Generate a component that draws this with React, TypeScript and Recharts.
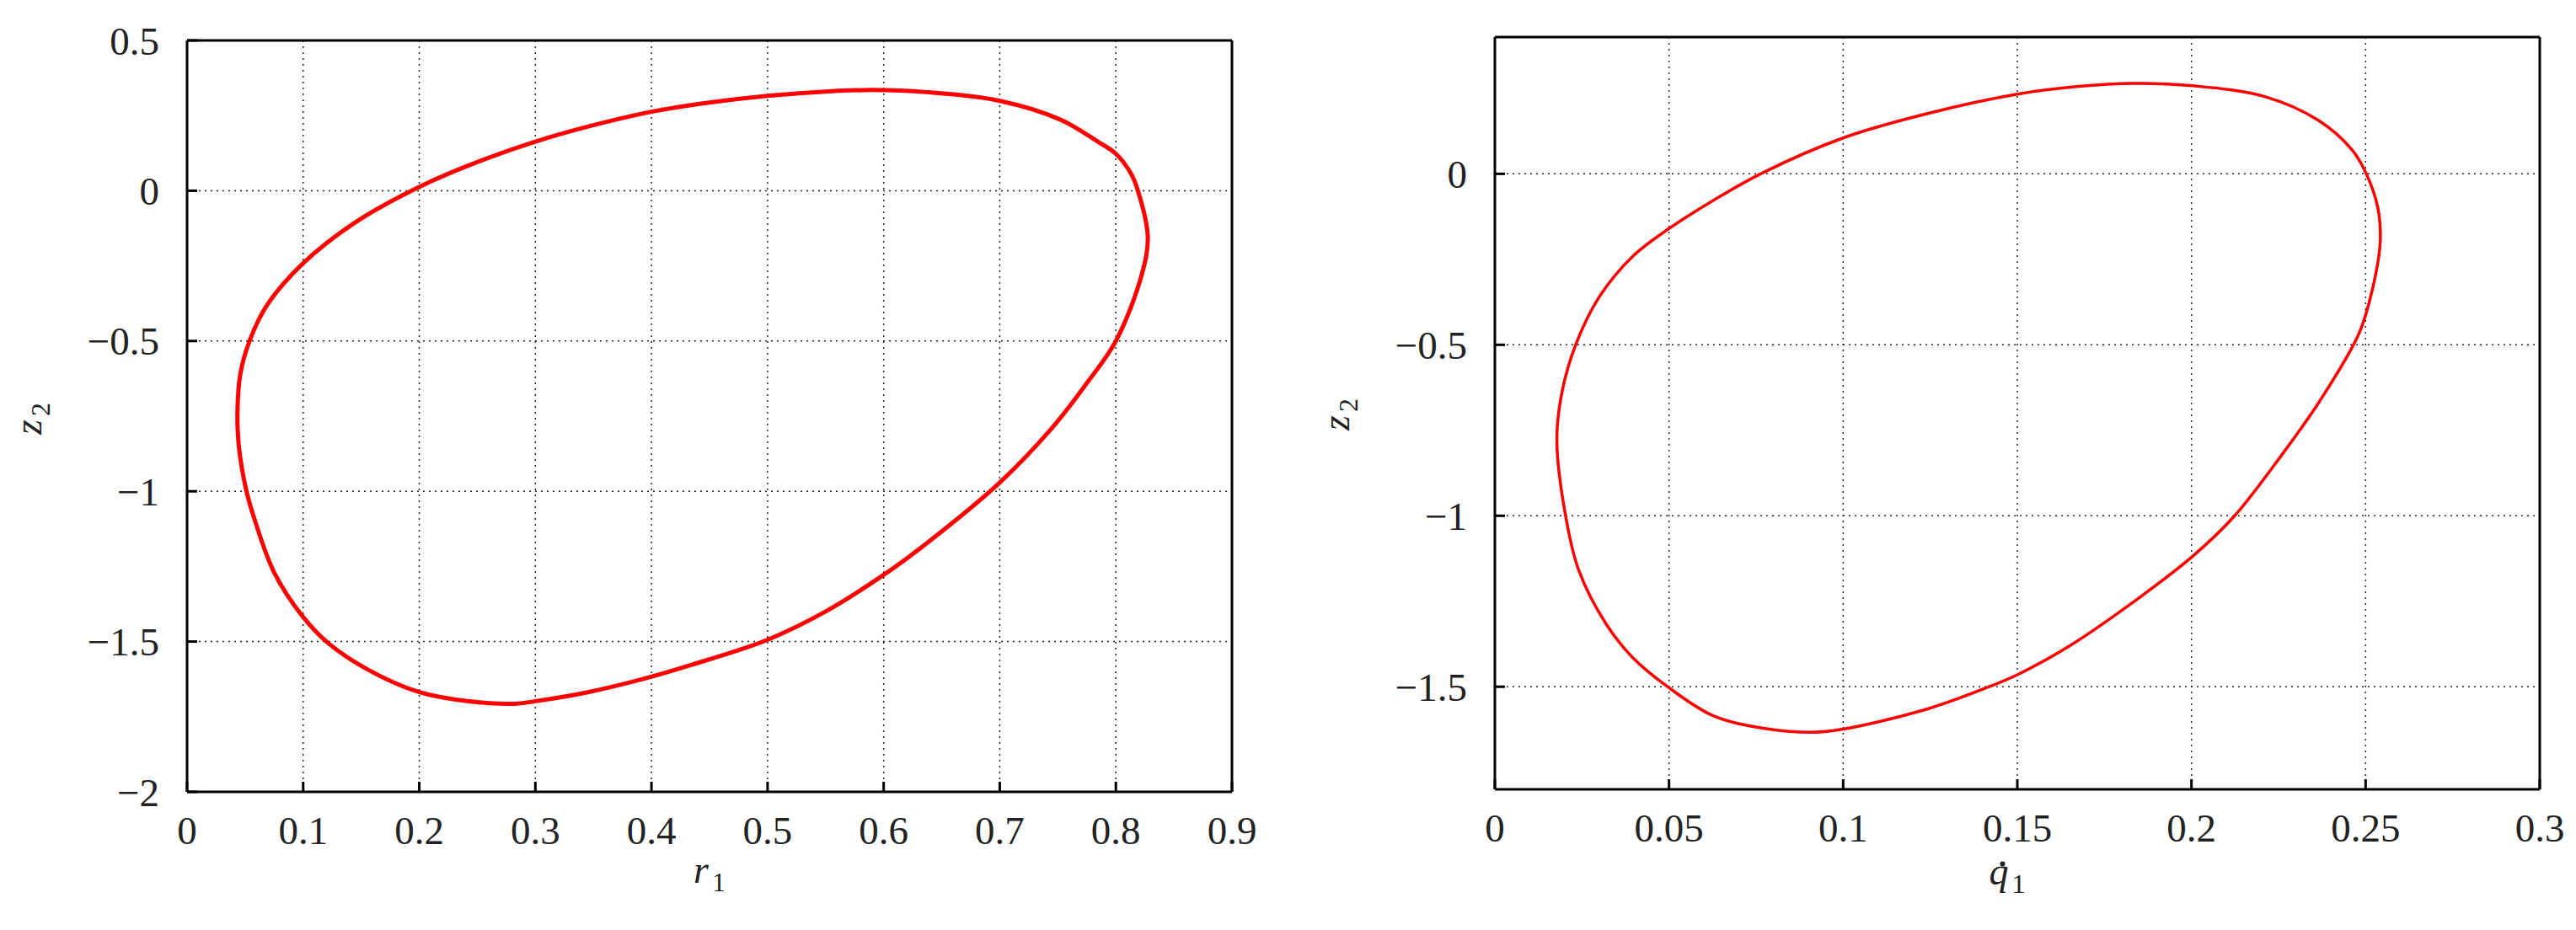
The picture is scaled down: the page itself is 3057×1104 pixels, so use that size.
import React from 'react'
import { LineChart, Line, XAxis, YAxis, CartesianGrid } from 'recharts'

// left panel: r1 (x) against z2 (y), traced clockwise
const leftR1 = [
  0.637, 0.6, 0.55, 0.5, 0.434, 0.399, 0.347, 0.299, 0.282, 0.243, 0.199, 0.156, 0.1215, 0.0995,
  0.075, 0.058, 0.051, 0.0446, 0.0434, 0.046, 0.054, 0.069, 0.0995, 0.145, 0.199, 0.243, 0.299,
  0.347, 0.399, 0.451, 0.5, 0.55, 0.59, 0.637, 0.7, 0.752, 0.785, 0.8, 0.813, 0.819, 0.8275, 0.822,
  0.8, 0.775, 0.746, 0.7, 0.637,
]
const leftZ2 = [
  -1.173, -1.278, -1.4, -1.494, -1.578, -1.618, -1.667, -1.699, -1.707, -1.699, -1.667, -1.594,
  -1.505, -1.416, -1.27, -1.092, -0.997, -0.85, -0.736, -0.607, -0.498, -0.38, -0.243, -0.105, 0.011,
  0.085, 0.162, 0.215, 0.262, 0.294, 0.316, 0.33, 0.335, 0.328, 0.299, 0.237, 0.162, 0.123, 0.057,
  0.0, -0.154, -0.283, -0.5, -0.64, -0.785, -0.971, -1.173,
]
const leftXTicks = [0, 0.1, 0.2, 0.3, 0.4, 0.5, 0.6, 0.7, 0.8, 0.9]
const leftYTicks = [0.5, 0, -0.5, -1, -1.5, -2]

// right panel: q1 dot (x) against z2 (y)
const rightQ1 = [
  0.2004, 0.1824, 0.1651, 0.15, 0.1419, 0.1245, 0.1, 0.0913, 0.0763, 0.0627, 0.05, 0.0396, 0.0319,
  0.0241, 0.0203, 0.0178, 0.0193, 0.0232, 0.0299, 0.0396, 0.05, 0.0627, 0.0763, 0.1, 0.1245, 0.15,
  0.167, 0.1834, 0.2004, 0.221, 0.2365, 0.2461, 0.2502, 0.2535, 0.2542, 0.2519, 0.2481, 0.2368,
  0.226, 0.2124, 0.2004,
]
const rightZ2 = [
  -1.118, -1.259, -1.38, -1.465, -1.5, -1.564, -1.624, -1.633, -1.62, -1.585, -1.503, -1.415, -1.316,
  -1.16, -1.0, -0.778, -0.637, -0.5, -0.361, -0.241, -0.16, -0.078, 0.0, 0.105, 0.177, 0.233, 0.255,
  0.2646, 0.2575, 0.226, 0.156, 0.07, 0.0, -0.099, -0.198, -0.34, -0.467, -0.665, -0.821, -1.0,
  -1.118,
]
const rightXTicks = [0, 0.05, 0.1, 0.15, 0.2, 0.25, 0.3]
const rightYTicks = [0, -0.5, -1, -1.5]

const FONT = '"Liberation Serif", "Times New Roman", serif'
const fmt = (v: number) => String(v).replace('-', '\u2212')
const tickStyle = { fontSize: 47, fontFamily: FONT, fill: '#222' }
const frame = { stroke: '#000', strokeWidth: 3 }

// closed centripetal Catmull-Rom, so the traced loop comes out smooth
const closedLoop = (ctx: any) => {
  let pts: number[][] = []
  return {
    areaStart() {},
    areaEnd() {},
    lineStart() {
      pts = []
    },
    point(x: number, y: number) {
      pts.push([x, y])
    },
    lineEnd() {
      const p = pts.slice()
      if (p.length > 2 && Math.hypot(p[0][0] - p[p.length - 1][0], p[0][1] - p[p.length - 1][1]) < 0.5) p.pop()
      const n = p.length
      if (!n) return
      ctx.moveTo(p[0][0], p[0][1])
      for (let i = 0; i < n; i++) {
        const p0 = p[(i - 1 + n) % n]
        const p1 = p[i]
        const p2 = p[(i + 1) % n]
        const p3 = p[(i + 2) % n]
        const l01 = Math.hypot(p1[0] - p0[0], p1[1] - p0[1]) || 1e-6
        const l12 = Math.hypot(p2[0] - p1[0], p2[1] - p1[1]) || 1e-6
        const l23 = Math.hypot(p3[0] - p2[0], p3[1] - p2[1]) || 1e-6
        const a1 = Math.sqrt(l01)
        const a2 = Math.sqrt(l12)
        const a3 = Math.sqrt(l23)
        const ka = 2 * l01 + 3 * a1 * a2 + l12
        const na = 3 * a1 * (a1 + a2)
        const kb = 2 * l23 + 3 * a3 * a2 + l12
        const nb = 3 * a3 * (a3 + a2)
        const c1x = (p1[0] * ka - p0[0] * l12 + p2[0] * l01) / na
        const c1y = (p1[1] * ka - p0[1] * l12 + p2[1] * l01) / na
        const c2x = (p2[0] * kb + p1[0] * l23 - p3[0] * l12) / nb
        const c2y = (p2[1] * kb + p1[1] * l23 - p3[1] * l12) / nb
        ctx.bezierCurveTo(c1x, c1y, c2x, c2y, p2[0], p2[1])
      }
    },
  }
}

interface PanelProps {
  xs: number[]
  ys: number[]
  xTicks: number[]
  yTicks: number[]
  xDomain: [number, number]
  yDomain: [number, number]
  width: number
  margin: { top: number; right: number; bottom: number; left: number }
  strokeWidth: number
}

function Panel({ xs, ys, xTicks, yTicks, xDomain, yDomain, width, margin, strokeWidth }: PanelProps) {
  const data = xs.map((x, i) => ({ x, y: ys[i] }))
  return (
    <LineChart width={width} height={1104} data={data} margin={margin}>
      <CartesianGrid stroke="#222" strokeWidth={1.5} strokeDasharray="2 5" />
      <XAxis
        type="number"
        dataKey="x"
        domain={xDomain}
        ticks={xTicks}
        allowDataOverflow
        height={1}
        tickSize={-12}
        tickMargin={41}
        tickFormatter={fmt}
        tick={tickStyle}
        axisLine={frame}
        tickLine={frame}
      />
      <XAxis
        xAxisId="top"
        orientation="top"
        type="number"
        domain={xDomain}
        ticks={xTicks}
        allowDataOverflow
        height={1}
        tickSize={-12}
        tick={false}
        axisLine={frame}
        tickLine={frame}
      />
      <YAxis
        type="number"
        domain={yDomain}
        ticks={yTicks}
        allowDataOverflow
        width={1}
        tickSize={-12}
        tickMargin={45}
        tickFormatter={fmt}
        tick={tickStyle}
        axisLine={frame}
        tickLine={frame}
      />
      <YAxis
        yAxisId="right"
        orientation="right"
        type="number"
        domain={yDomain}
        ticks={yTicks}
        allowDataOverflow
        width={1}
        tickSize={-12}
        tick={false}
        axisLine={frame}
        tickLine={frame}
      />
      <Line
        type={closedLoop as any}
        dataKey="y"
        stroke="#ff0000"
        strokeWidth={strokeWidth}
        dot={false}
        activeDot={false}
        isAnimationActive={false}
      />
    </LineChart>
  )
}

const labelBase: React.CSSProperties = {
  position: 'absolute',
  fontFamily: FONT,
  fontStyle: 'italic',
  fontSize: 46,
  color: '#222',
  whiteSpace: 'nowrap',
  lineHeight: 1,
}
const sub: React.CSSProperties = { fontSize: 32, fontStyle: 'normal', verticalAlign: '-10px', marginLeft: 4 }
// the accent dot over q is drawn as a tiny disc
const dotMark: React.CSSProperties = {
  position: 'absolute',
  left: 13,
  top: 11,
  width: 6,
  height: 6,
  borderRadius: 3,
  background: '#222',
}

export default function App() {
  return (
    <div style={{ position: 'absolute', left: 0, top: 0, width: 3057, height: 1104, background: '#fff' }}>
      <div style={{ position: 'absolute', left: 0, top: 0 }}>
        <Panel
          xs={leftR1}
          ys={leftZ2}
          xTicks={leftXTicks}
          yTicks={leftYTicks}
          xDomain={[0, 0.9]}
          yDomain={[-2, 0.5]}
          width={1540}
          margin={{ top: 47, right: 77, bottom: 163, left: 221 }}
          strokeWidth={5}
        />
      </div>
      <div style={{ position: 'absolute', left: 1540, top: 0 }}>
        <Panel
          xs={rightQ1}
          ys={rightZ2}
          xTicks={rightXTicks}
          yTicks={rightYTicks}
          xDomain={[0, 0.3]}
          yDomain={[-1.8, 0.4]}
          width={1517}
          margin={{ top: 43, right: 42, bottom: 166, left: 233 }}
          strokeWidth={3.5}
        />
      </div>
      <div style={{ ...labelBase, left: 842, top: 1036, transform: 'translate(-50%, -50%)' }}>
        r<span style={sub}>1</span>
      </div>
      <div style={{ ...labelBase, left: 37, top: 497, transform: 'translate(-50%, -50%) rotate(-90deg)' }}>
        z<span style={sub}>2</span>
      </div>
      <div style={{ ...labelBase, left: 2382, top: 1038, transform: 'translate(-50%, -50%)' }}>
        <div style={dotMark} />
        q<span style={sub}>1</span>
      </div>
      <div style={{ ...labelBase, left: 1589, top: 492, transform: 'translate(-50%, -50%) rotate(-90deg)' }}>
        z<span style={sub}>2</span>
      </div>
    </div>
  )
}
